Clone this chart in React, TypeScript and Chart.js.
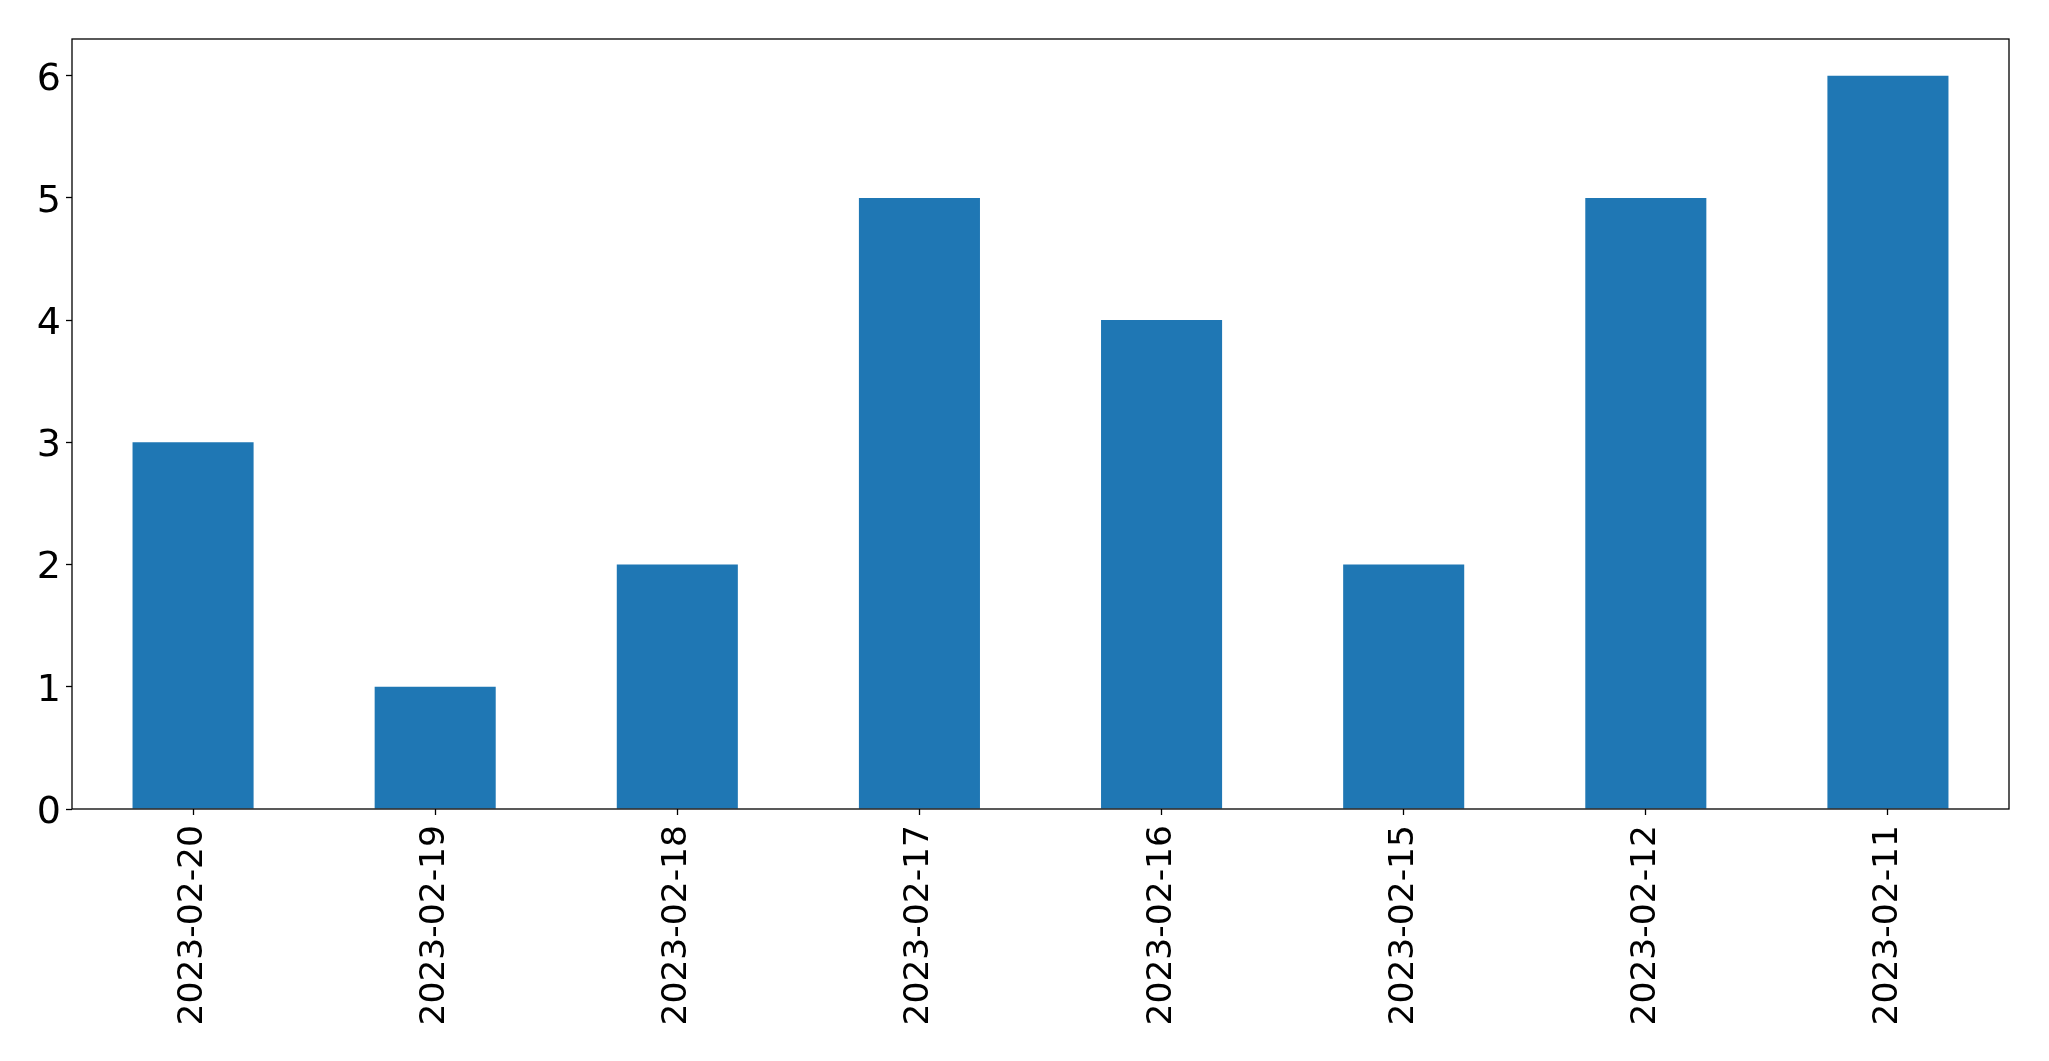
import React, { useEffect, useRef } from "react";
import { Chart, registerables } from "chart.js";

Chart.register(...registerables);

const categories = [
  "2023-02-20",
  "2023-02-19",
  "2023-02-18",
  "2023-02-17",
  "2023-02-16",
  "2023-02-15",
  "2023-02-12",
  "2023-02-11",
];
const counts = [3, 1, 2, 5, 4, 2, 5, 6];
const yTicks = [0, 1, 2, 3, 4, 5, 6];

const W = 2049;
const H = 1061;

const boxPlugin = {
  id: "boxPlugin",
  afterDraw(chart: any) {
    const { ctx, chartArea } = chart;
    ctx.save();
    ctx.strokeStyle = "#000";
    ctx.lineWidth = 1.3;
    ctx.strokeRect(chartArea.left, chartArea.top, chartArea.right - chartArea.left, chartArea.bottom - chartArea.top);
    ctx.restore();
  },
};

export default function App() {
  const ref = useRef<HTMLCanvasElement | null>(null);

  useEffect(() => {
    if (!ref.current) return;
    const xFont = { family: "'DejaVu Sans', sans-serif", size: 34.5 };
    const yFont = { family: "'DejaVu Sans', sans-serif", size: 38 };
    const chart = new Chart(ref.current, {
      type: "bar",
      data: {
        labels: categories,
        datasets: [
          {
            data: counts,
            backgroundColor: "#1f77b4",
            borderWidth: 0,
            barPercentage: 0.5,
            categoryPercentage: 1,
          },
        ],
      },
      options: {
        responsive: false,
        animation: false,
        layout: { padding: { top: 39, right: 40, left: 0, bottom: 0 } },
        plugins: {
          legend: { display: false },
          tooltip: { enabled: false },
        },
        scales: {
          x: {
            offset: true,
            grid: {
              display: true,
              offset: false,
              drawOnChartArea: false,
              tickLength: 6,
              tickColor: "#000",
              tickWidth: 1.3,
            },
            border: { display: false },
            ticks: {
              color: "#000",
              font: xFont,
              maxRotation: 90,
              minRotation: 90,
              padding: 10,
              autoSkip: false,
            },
            afterFit(scale: any) {
              scale.height = H - 809;
            },
          },
          y: {
            min: 0,
            max: 6.3,
            grid: {
              display: true,
              drawOnChartArea: false,
              tickLength: 6,
              tickColor: "#000",
              tickWidth: 1.3,
            },
            border: { display: false },
            ticks: {
              color: "#000",
              font: yFont,
              stepSize: 1,
              padding: 5,
              labelOffset: 4,
            },
            afterBuildTicks(scale: any) {
              scale.ticks = yTicks.map((v) => ({ value: v }));
            },
            afterFit(scale: any) {
              scale.width = 72;
            },
          },
        },
      },
      plugins: [boxPlugin],
    });
    return () => chart.destroy();
  }, []);

  return (
    <div style={{ position: "fixed", left: 0, top: 0, width: W, height: H, background: "#fff" }}>
      <canvas ref={ref} width={W} height={H} style={{ width: W, height: H, display: "block" }} />
    </div>
  );
}
